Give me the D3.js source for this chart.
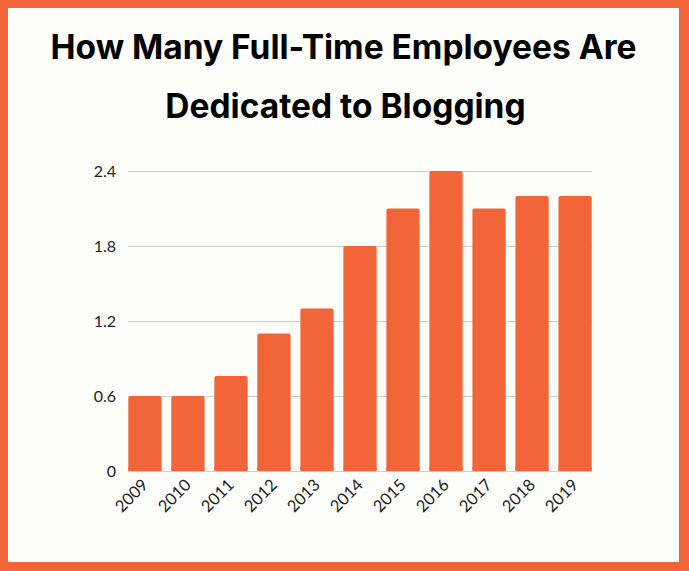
<!DOCTYPE html>
<html>
<head>
<meta charset="utf-8">
<script src="https://cdn.jsdelivr.net/npm/d3@7/dist/d3.min.js"></script>
<style>
  html, body { margin: 0; padding: 0; background: #fdfdf9; }
  svg { display: block; }
</style>
</head>
<body>
<svg id="chart" width="689" height="571"></svg>
<script>
const years = ["2009","2010","2011","2012","2013","2014","2015","2016","2017","2018","2019"];
const employees = [0.6, 0.6, 0.76, 1.1, 1.3, 1.8, 2.1, 2.4, 2.1, 2.2, 2.2];
const yTicks = [0, 0.6, 1.2, 1.8, 2.4];
const titleLines = ["How Many Full-Time Employees Are", "Dedicated to Blogging"];

const W = 689, H = 571;
const orange = "#f26539";
const svg = d3.select("#chart");

// background and frame
svg.append("rect").attr("x", 0).attr("y", 0).attr("width", W).attr("height", H).attr("fill", orange);
svg.append("rect").attr("x", 8).attr("y", 8).attr("width", W - 18).attr("height", H - 17).attr("fill", "#fdfdf9");

// title
const titleFont = "Inter, Lato, 'Open Sans', sans-serif";
const t1 = svg.append("text")
  .attr("x", W / 2 - 1).attr("y", 59)
  .attr("text-anchor", "middle")
  .attr("font-family", titleFont).attr("font-weight", 700)
  .attr("font-size", 35).attr("fill", "#000")
  .text(titleLines[0]);
// fit line 1 to the reference width
const targetW = 586;
const len = t1.node().getComputedTextLength();
const fs = 35 * targetW / len;
t1.attr("font-size", fs);
svg.append("text")
  .attr("x", W / 2 + 1).attr("y", 118)
  .attr("text-anchor", "middle")
  .attr("font-family", titleFont).attr("font-weight", 700)
  .attr("font-size", fs).attr("fill", "#000")
  .text(titleLines[1]);

// scales
const x = d3.scaleBand().domain(years).range([128.3, 591.7]).paddingInner(0.227).paddingOuter(0);
const y = d3.scaleLinear().domain([0, 2.4]).range([471, 171]);

// gridlines
svg.append("g")
  .selectAll("line").data(yTicks.filter(d => d > 0)).join("line")
  .attr("x1", 128).attr("x2", 592)
  .attr("y1", d => Math.round(y(d)) + 0.5).attr("y2", d => Math.round(y(d)) + 0.5)
  .attr("stroke", "#cfcfcb").attr("stroke-width", 1);

// y axis labels
const yAxis = d3.axisLeft(y).tickValues(yTicks).tickSize(0).tickPadding(0)
  .tickFormat(d => d === 0 ? "0" : d3.format(".1f")(d));
const ya = svg.append("g").attr("transform", "translate(116,0)").call(yAxis);
ya.select(".domain").remove();
ya.selectAll("text")
  .attr("font-family", "Lato, 'Open Sans', sans-serif")
  .attr("font-size", 16).attr("fill", "#222");

// bars
svg.append("g")
  .selectAll("rect").data(years).join("rect")
  .attr("x", d => x(d))
  .attr("width", x.bandwidth())
  .attr("y", (d, i) => y(employees[i]))
  .attr("height", (d, i) => y(0) - y(employees[i]))
  .attr("rx", 2).attr("ry", 2)
  .attr("fill", orange);
// square off the bottoms of the bars
svg.append("g")
  .selectAll("rect").data(years).join("rect")
  .attr("x", d => x(d))
  .attr("width", x.bandwidth())
  .attr("y", y(0) - 4)
  .attr("height", 4)
  .attr("fill", orange);

// baseline
svg.append("line")
  .attr("x1", 128).attr("x2", 592)
  .attr("y1", 471.5).attr("y2", 471.5)
  .attr("stroke", "#cfcfcb").attr("stroke-width", 1.2);

// x axis labels
const xAxis = d3.axisBottom(x).tickSize(0).tickPadding(0);
const xa = svg.append("g").attr("transform", "translate(0,472)").call(xAxis);
xa.select(".domain").remove();
xa.selectAll("text")
  .attr("font-family", "Lato, 'Open Sans', sans-serif")
  .attr("font-size", 16.5).attr("fill", "#222")
  .attr("text-anchor", "end")
  .attr("dy", "0.35em")
  .attr("transform", "translate(0,10) rotate(-45)");
</script>
</body>
</html>
